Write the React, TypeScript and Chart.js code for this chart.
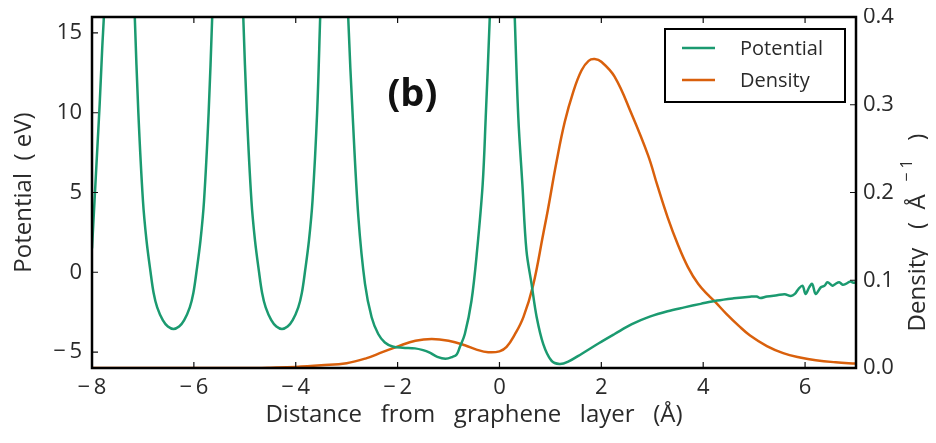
import React, { useEffect, useRef } from "react";
import { Chart, registerables } from "chart.js";

Chart.register(...registerables);

// ---- data ----
const potX = [
  -8.0, -7.95, -7.9, -7.85, -7.8, -7.76, -7.7, -7.48,
  -7.2, -7.16, -7.09, -7.0, -6.93, -6.85, -6.79, -6.72, -6.61, -6.51, -6.4,
  -6.29, -6.19, -6.08, -6.01, -5.95, -5.87, -5.8, -5.71, -5.64, -5.6, -5.35,
  -5.07, -5.03, -4.96, -4.87, -4.8, -4.72, -4.66, -4.59, -4.48, -4.38, -4.27,
  -4.16, -4.06, -3.95, -3.88, -3.82, -3.74, -3.67, -3.58, -3.52, -3.48, -3.25,
  -3.0, -2.97, -2.88, -2.77, -2.64, -2.51, -2.38, -2.25, -2.1, -1.9, -1.66,
  -1.5, -1.38, -1.22, -1.06, -0.92, -0.84, -0.78, -0.68, -0.55, -0.44, -0.33,
  -0.27, -0.19, -0.14, 0.05, 0.25, 0.3, 0.37, 0.45, 0.53, 0.63, 0.73, 0.86,
  1.02, 1.18, 1.35, 1.61, 1.95, 2.26, 2.6, 2.95, 3.3, 3.63, 3.95, 4.27, 4.6,
  4.92, 5.05, 5.12, 5.25, 5.45, 5.6, 5.72, 5.8, 5.87, 5.95, 6.01, 6.08, 6.14,
  6.21, 6.31, 6.38, 6.44, 6.54, 6.6, 6.67, 6.74, 6.8, 6.89, 6.95, 7.0,
];
const potY = [
  1.5, 4.5, 7.5, 10.5, 14, 16.5, 22, 40,
  20, 16, 10, 4.5, 2, 0, -1.3, -2.2, -3.0, -3.4, -3.55,
  -3.4, -3.0, -2.2, -1.3, 0, 2, 4.5, 10, 16, 20, 40,
  20, 16, 10, 4.5, 2, 0, -1.3, -2.2, -3.0, -3.4, -3.55,
  -3.4, -3.0, -2.2, -1.3, 0, 2, 4.5, 10, 16, 20, 40,
  20, 16, 9.7, 3.45, -0.73, -2.82, -3.87, -4.4, -4.65, -4.73, -4.77,
  -4.88, -5.02, -5.3, -5.42, -5.3, -5.15, -4.7, -3.87, -1.8, 1.35, 5.5,
  9.7, 16, 21, 40, 21, 16, 9.7, 5.5, 1.35, -0.73, -2.8, -4.5,
  -5.54, -5.75, -5.6, -5.12, -4.45, -3.87, -3.25, -2.78, -2.44, -2.2, -1.98, -1.77, -1.63,
  -1.53, -1.52, -1.62, -1.52, -1.44, -1.38, -1.48, -1.35, -1.05, -0.84, -1.36, -0.95, -0.73,
  -1.36, -0.94, -0.85, -0.63, -0.84, -0.72, -0.63, -0.78, -0.73, -0.58, -0.66, -0.62,
];
const denX = [
  -8.0, -5.0, -4.5, -4.0, -3.5, -3.0, -2.62, -2.3, -1.98, -1.65, -1.33, -1.0,
  -0.68, -0.45, -0.22, 0.0, 0.14, 0.3, 0.47, 0.66, 0.86, 0.95, 1.12, 1.28, 1.45,
  1.61, 1.75, 1.87, 2.0, 2.26, 2.59, 2.92, 3.1, 3.3, 3.5, 3.7, 3.9, 4.1, 4.24,
  4.45, 4.7, 4.92, 5.25, 5.57, 5.9, 6.21, 6.6, 7.0,
];
const denY = [
  0, 0, 0.0004, 0.0012, 0.003, 0.0055, 0.011, 0.018, 0.025, 0.031, 0.033, 0.031,
  0.026, 0.021, 0.018, 0.019, 0.024, 0.038, 0.058, 0.094, 0.153, 0.18, 0.235, 0.28, 0.315,
  0.339, 0.35, 0.352, 0.349, 0.332, 0.29, 0.242, 0.208, 0.172, 0.141, 0.115, 0.096, 0.083, 0.075,
  0.062, 0.048, 0.037, 0.025, 0.017, 0.012, 0.0088, 0.0065, 0.005,
];
const xTicks = [-8, -6, -4, -2, 0, 2, 4, 6];
const potTicks = [-5, 0, 5, 10, 15];
const denTicks = [0, 0.1, 0.2, 0.3, 0.4];
const seriesLabels = ["Potential", "Density"];
const panelLabel = "(b)";
const xTitle = "Distance   from   graphene   layer   (Å)";
const potTitle = "Potential  ( eV)";
const denTitle = "Density  (Å⁻¹)";
const denTitleParts = ["Density   (  Å  ", "\u2212 1", "   )"];

const GREEN = "#1b9a70";
const ORANGE = "#d9600c";
const FONT = "'Open Sans', 'DejaVu Sans', sans-serif";
const TEXT = "#2a2a2a";

function signed(v: number): string {
  return v < 0 ? "\u2212\u2009" + Math.abs(v) : String(v);
}

const decor = {
  id: "decor",
  afterDatasetsDraw(chart: any) {
    const { ctx, chartArea: a, scales } = chart;
    const xs = scales.x;
    const yl = scales.y;
    const yr = scales.y1;
    ctx.save();
    // inward ticks
    const tl = 6;
    ctx.strokeStyle = "#111";
    ctx.lineWidth = 1.2;
    ctx.beginPath();
    xs.ticks.forEach((t: any) => {
      const p = xs.getPixelForValue(t.value);
      ctx.moveTo(p, a.bottom);
      ctx.lineTo(p, a.bottom - tl);
      ctx.moveTo(p, a.top);
      ctx.lineTo(p, a.top + tl);
    });
    yl.ticks.forEach((t: any) => {
      const p = yl.getPixelForValue(t.value);
      ctx.moveTo(a.left, p);
      ctx.lineTo(a.left + tl, p);
    });
    yr.ticks.forEach((t: any) => {
      const p = yr.getPixelForValue(t.value);
      ctx.moveTo(a.right, p);
      ctx.lineTo(a.right - tl, p);
    });
    ctx.stroke();
    // frame
    ctx.lineWidth = 2.5;
    ctx.strokeStyle = "#000";
    ctx.strokeRect(a.left, a.top, a.right - a.left, a.bottom - a.top);

    // panel label
    ctx.fillStyle = "#111";
    ctx.font = `bold 38px ${FONT}`;
    ctx.textAlign = "center";
    ctx.textBaseline = "alphabetic";
    ctx.fillText(panelLabel, xs.getPixelForValue(-1.71), yl.getPixelForValue(10.45));

    // legend
    const bx = a.right - 191;
    const by = a.top + 12;
    const bw = 180;
    const bh = 73;
    ctx.fillStyle = "#fff";
    ctx.fillRect(bx, by, bw, bh);
    ctx.lineWidth = 2;
    ctx.strokeStyle = "#000";
    ctx.strokeRect(bx, by, bw, bh);
    ctx.font = `20px ${FONT}`;
    ctx.textAlign = "left";
    ctx.textBaseline = "middle";
    chart.data.datasets.forEach((ds: any, i: number) => {
      const ly = by + 19 + i * 32;
      ctx.strokeStyle = ds.borderColor;
      ctx.lineWidth = 2.5;
      ctx.beginPath();
      ctx.moveTo(bx + 17, ly);
      ctx.lineTo(bx + 50, ly);
      ctx.stroke();
      ctx.fillStyle = TEXT;
      ctx.fillText(ds.label, bx + 75, ly + 1);
    });

    // right axis title (reads bottom-to-top), with a raised exponent
    ctx.save();
    ctx.translate(chart.width - 10, (a.top + a.bottom) / 2 + 40);
    ctx.rotate(-Math.PI / 2);
    ctx.fillStyle = TEXT;
    ctx.textBaseline = "middle";
    ctx.textAlign = "left";
    const bigFont = `24px ${FONT}`;
    const smallFont = `16px ${FONT}`;
    ctx.font = bigFont;
    const w0 = ctx.measureText(denTitleParts[0]).width;
    const w2 = ctx.measureText(denTitleParts[2]).width;
    ctx.font = smallFont;
    const w1 = ctx.measureText(denTitleParts[1]).width;
    let cx = -(w0 + w1 + w2) / 2;
    ctx.font = bigFont;
    ctx.fillText(denTitleParts[0], cx, 0);
    cx += w0;
    ctx.font = smallFont;
    ctx.fillText(denTitleParts[1], cx, -11);
    cx += w1;
    ctx.font = bigFont;
    ctx.fillText(denTitleParts[2], cx, 0);
    ctx.restore();

    ctx.restore();
  },
};

function noPadY(s: any, w: number) {
  s.width = w;
  s.paddingTop = 0;
  s.paddingBottom = 0;
}

export default function App() {
  const ref = useRef<HTMLCanvasElement | null>(null);
  useEffect(() => {
    if (!ref.current) return;
    const chart = new Chart(ref.current, {
      type: "line",
      data: {
        datasets: [
          {
            label: seriesLabels[0],
            data: potX.map((x, i) => ({ x, y: potY[i] })),
            borderColor: GREEN,
            backgroundColor: GREEN,
            borderWidth: 2.5,
            pointRadius: 0,
            tension: 0.35,
            yAxisID: "y",
          },
          {
            label: seriesLabels[1],
            data: denX.map((x, i) => ({ x, y: denY[i] })),
            borderColor: ORANGE,
            backgroundColor: ORANGE,
            borderWidth: 2.5,
            pointRadius: 0,
            tension: 0.4,
            yAxisID: "y1",
          },
        ],
      },
      options: {
        responsive: false,
        animation: false,
        events: [],
        layout: { padding: { top: 9, left: 0, right: 0, bottom: 0 } },
        plugins: {
          legend: { display: false },
          tooltip: { enabled: false },
          title: { display: false },
        },
        scales: {
          x: {
            type: "linear",
            min: -8,
            max: 7,
            grid: { display: false, drawTicks: false },
            border: { display: false },
            afterBuildTicks: (s: any) => {
              s.ticks = xTicks.map((v) => ({ value: v }));
            },
            afterFit: (s: any) => {
              s.height = 67;
              s.paddingLeft = 0;
              s.paddingRight = 0;
            },
            ticks: {
              padding: 7,
              color: TEXT,
              font: { family: FONT, size: 22 },
              callback: (v: any) => signed(Number(v)),
            },
            title: {
              display: true,
              text: xTitle,
              color: TEXT,
              font: { family: FONT, size: 24, lineHeight: 1 },
              padding: { top: 0, bottom: 8 },
            },
          },
          y: {
            type: "linear",
            position: "left",
            min: -6,
            max: 16,
            grid: { display: false, drawTicks: false },
            border: { display: false },
            afterBuildTicks: (s: any) => {
              s.ticks = potTicks.map((v) => ({ value: v }));
            },
            afterFit: (s: any) => noPadY(s, 84),
            ticks: {
              padding: 10,
              color: TEXT,
              font: { family: FONT, size: 22 },
              callback: (v: any) => signed(Number(v)),
            },
            title: {
              display: true,
              text: potTitle,
              color: TEXT,
              font: { family: FONT, size: 24, lineHeight: 1 },
              padding: { top: 4, bottom: 0 },
            },
          },
          y1: {
            type: "linear",
            position: "right",
            min: 0,
            max: 0.4,
            grid: { display: false, drawTicks: false },
            border: { display: false },
            afterBuildTicks: (s: any) => {
              s.ticks = denTicks.map((v) => ({ value: v }));
            },
            afterFit: (s: any) => noPadY(s, 72),
            ticks: {
              padding: 7,
              color: TEXT,
              font: { family: FONT, size: 22 },
              callback: (v: any) => Number(v).toFixed(1),
            },
            title: {
              display: false,
              text: denTitle,
            },
          },
        },
      },
      plugins: [decor],
    } as any);
    return () => chart.destroy();
  }, []);
  return (
    <div style={{ width: 920, height: 427 }}>
      <canvas ref={ref} width={920} height={427} style={{ display: "block" }} />
    </div>
  );
}
